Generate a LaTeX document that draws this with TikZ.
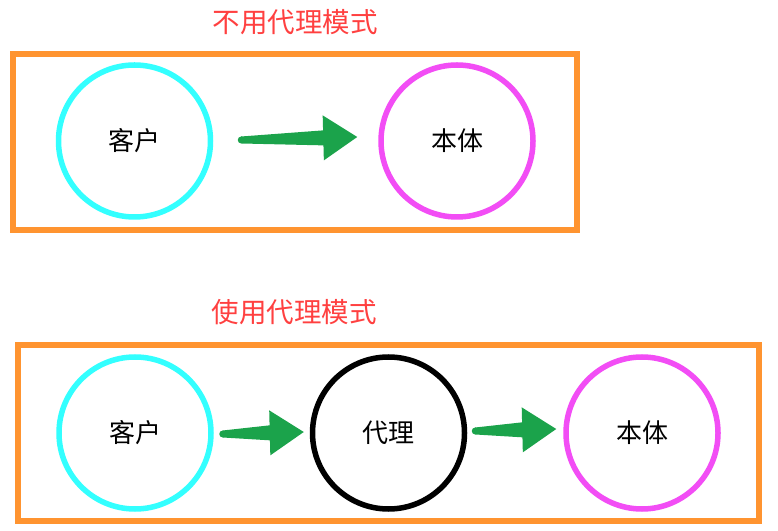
\documentclass[tikz,border=0pt]{standalone}
\usepackage{fontspec}
\setmainfont{Noto Sans CJK SC}
\usetikzlibrary{positioning,calc}
\definecolor{boxorange}{HTML}{FF9430}
\definecolor{clientcyan}{HTML}{33FFFF}
\definecolor{realpink}{HTML}{F24DF5}
\definecolor{arrowgreen}{HTML}{1BA34B}
\definecolor{titlered}{HTML}{FF4040}
\tikzset{
  rolecircle/.style={
    circle,
    draw,
    line width=5.5pt,
    minimum size=152pt,
    inner sep=0pt,
    font=\fontsize{26}{30}\selectfont
  },
  clientcircle/.style={rolecircle, draw=clientcyan},
  subjectcircle/.style={rolecircle, draw=realpink},
  proxycircle/.style={rolecircle, draw=black},
  framebox/.style={draw=boxorange, line width=6pt},
  titletext/.style={text=titlered, font=\fontsize{27.5}{32}\selectfont},
  fatarrow/.style={fill=arrowgreen, draw=none}
}
% tapered green arrow from #1 to #2
\newcommand\greenarrow[2]{%
  \coordinate (ga-h) at ($(#2)!34pt!(#1)$);
  \fill[fatarrow] ($(#1)!3.5pt!90:(#2)$) -- ($(ga-h)!7.5pt!-90:(#1)$)
    -- ($(ga-h)!22.5pt!-90:(#1)$) -- (#2) -- ($(ga-h)!22.5pt!90:(#1)$)
    -- ($(ga-h)!7.5pt!90:(#1)$) -- ($(#1)!3.5pt!-90:(#2)$) -- cycle;
  \fill[fatarrow] (#1) circle (3.5pt);
}

\begin{document}
\begin{tikzpicture}[x=1pt, y=1pt]
\useasboundingbox (0,0) rectangle (778,530);
\fill[white] (0,0) rectangle (778,530);

% without proxy
\node[titletext] (title1) at (295,508) {不用代理模式};
\draw[framebox] (13,476) rectangle (577,300);
\node[clientcircle] (client1) at (134.5,389) {客户};
\node[subjectcircle, right=165pt of client1] (subject1) {本体};

\coordinate (a1s) at ($(client1.east)+(28,1)$);
\coordinate (a1e) at ($(subject1.west)+(-21,4)$);
\greenarrow{a1s}{a1e}

% with proxy
\node[titletext] (title2) at (294,218) {使用代理模式};
\draw[framebox] (18,185) rectangle (759,9);
\node[clientcircle] (client2) at (135,97) {客户};
\node[proxycircle, right=96pt of client2] (proxy) {代理};
\node[subjectcircle, right=96pt of proxy] (subject2) {本体};

\coordinate (a2s) at ($(client2.east)+(9,-1)$);
\coordinate (a2e) at ($(proxy.west)+(-6,1)$);
\greenarrow{a2s}{a2e}
\coordinate (a3s) at ($(proxy.east)+(8,2)$);
\coordinate (a3e) at ($(subject2.west)+(-7,4)$);
\greenarrow{a3s}{a3e}
\end{tikzpicture}
\end{document}
